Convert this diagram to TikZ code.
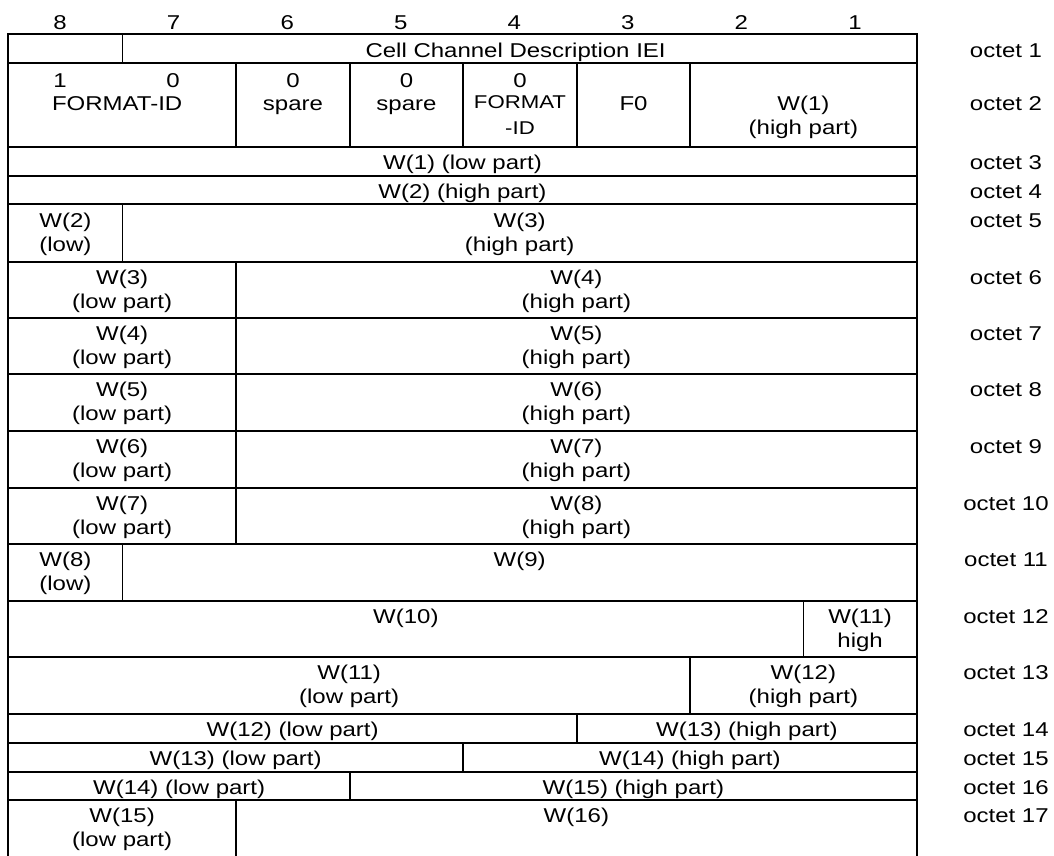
\documentclass[tikz,border=0pt]{standalone}
\usepackage{fontspec}
\setmainfont{Liberation Sans}[FakeStretch=1.2]
\def\XA{8.3}\def\XB{122.5}\def\XC{236}\def\XD{350}\def\XE{463}
\def\XF{577}\def\XG{690}\def\XH{803.5}\def\XI{916.7}
\def\YA{33.7}\def\YB{62.7}\def\YC{146.7}\def\YD{175.7}\def\YE{204.3}
\def\YF{262}\def\YG{317.7}\def\YH{374.3}\def\YI{431}\def\YJ{487.7}
\def\YK{544}\def\YL{601}\def\YM{657}\def\YN{714}\def\YO{742.7}
\def\YP{771.7}\def\YQ{800}\def\YZ{855}
\def\OX{1006}
\begin{document}
\begin{tikzpicture}[x=1pt,y=-1pt,
  grid/.style={line width=1.8pt, line cap=rect},
  txt/.style={anchor=base, inner sep=0pt, font=\fontsize{20}{24}\selectfont},
  txts/.style={anchor=base, inner sep=0pt, font=\fontsize{18.5}{22}\selectfont}]
\useasboundingbox (0,0) rectangle (1054,855);
\fill[white] (0,0) rectangle (1054,855);
% outer frame (open at the bottom, cut by the image edge)
\draw[grid] (\XA,\YZ) -- (\XA,\YA) -- (\XI,\YA) -- (\XI,\YZ);
% horizontal rules
\foreach \y in {\YB,\YC,\YD,\YE,\YF,\YG,\YH,\YI,\YJ,\YK,\YL,\YM,\YN,\YO,\YP,\YQ}
  \draw[grid] (\XA,\y) -- (\XI,\y);
% vertical separators
\draw[grid] (\XB,\YA) -- (\XB,\YB);
\foreach \x in {\XC,\XD,\XE,\XF,\XG} \draw[grid] (\x,\YB) -- (\x,\YC);
\draw[grid] (\XB,\YE) -- (\XB,\YF);
\draw[grid] (\XC,\YF) -- (\XC,\YK);
\draw[grid] (\XB,\YK) -- (\XB,\YL);
\draw[grid] (\XH,\YL) -- (\XH,\YM);
\draw[grid] (\XG,\YM) -- (\XG,\YN);
\draw[grid] (\XF,\YN) -- (\XF,\YO);
\draw[grid] (\XE,\YO) -- (\XE,\YP);
\draw[grid] (\XD,\YP) -- (\XD,\YQ);
\draw[grid] (\XC,\YQ) -- (\XC,\YZ);
% bit numbers
\foreach \b [count=\k from 0] in {8,7,6,5,4,3,2,1}
  \node[txt] (bit\b) at ({\XA+113.55*\k+56.8-5},29.5) {\b};
% octet 1
\node[txt] (iei) at ({(\XB+\XI)/2-4},57.5) {Cell Channel Description IEI};
% octet 2
\node[txt] (f1) at (60,87) {1};
\node[txt] (f0) at (173,87) {0};
\node[txt] (fid) at ({(\XA+\XC)/2-5},110.5) {FORMAT-ID};
\node[txt] (s6a) at ({(\XC+\XD)/2},87) {0};
\node[txt] (s6b) at ({(\XC+\XD)/2},110.5) {spare};
\node[txt] (s5a) at ({(\XD+\XE)/2},87) {0};
\node[txt] (s5b) at ({(\XD+\XE)/2},110.5) {spare};
\node[txt] (g4a) at ({(\XE+\XF)/2},87) {0};
\node[txts] (g4b) at ({(\XE+\XF)/2},108.5) {FORMAT};
\node[txts] (g4c) at ({(\XE+\XF)/2},134) {-ID};
\node[txt] (ff0) at ({(\XF+\XG)/2},110.5) {F0};
\node[txt] (w1a) at ({(\XG+\XI)/2},110.5) {W(1)};
\node[txt] (w1b) at ({(\XG+\XI)/2},134.5) {(high part)};
% octets 3, 4
\node[txt] (w1l) at ({(\XA+\XI)/2},169) {W(1) (low part)};
\node[txt] (w2h) at ({(\XA+\XI)/2},198) {W(2) (high part)};
% octet 5
\node[txt] (w2a) at ({(\XA+\XB)/2},227) {W(2)};
\node[txt] (w2b) at ({(\XA+\XB)/2},251) {(low)};
\node[txt] (w3a) at ({(\XB+\XI)/2},227) {W(3)};
\node[txt] (w3b) at ({(\XB+\XI)/2},251) {(high part)};
% octets 6 to 10
\foreach \n/\t in {3/\YF,4/\YG,5/\YH,6/\YI,7/\YJ}{
  \pgfmathtruncatemacro\m{\n+1}
  \node[txt] (lo\n a) at ({(\XA+\XC)/2},{\t+22.5}) {W(\n)};
  \node[txt] (lo\n b) at ({(\XA+\XC)/2},{\t+46.5}) {(low part)};
  \node[txt] (hi\m a) at ({(\XC+\XI)/2},{\t+22.5}) {W(\m)};
  \node[txt] (hi\m b) at ({(\XC+\XI)/2},{\t+46.5}) {(high part)};
}
% octet 11
\node[txt] (w8a) at ({(\XA+\XB)/2},566.5) {W(8)};
\node[txt] (w8b) at ({(\XA+\XB)/2},590.5) {(low)};
\node[txt] (w9) at ({(\XB+\XI)/2},566.5) {W(9)};
% octet 12
\node[txt] (w10) at ({(\XA+\XH)/2},623.5) {W(10)};
\node[txt] (w11a) at ({(\XH+\XI)/2},623.5) {W(11)};
\node[txt] (w11b) at ({(\XH+\XI)/2},647.5) {high};
% octet 13
\node[txt] (w11c) at ({(\XA+\XG)/2},679.5) {W(11)};
\node[txt] (w11d) at ({(\XA+\XG)/2},703.5) {(low part)};
\node[txt] (w12a) at ({(\XG+\XI)/2},679.5) {W(12)};
\node[txt] (w12b) at ({(\XG+\XI)/2},703.5) {(high part)};
% octets 14 to 16
\node[txt] (w12l) at ({(\XA+\XF)/2},736.5) {W(12) (low part)};
\node[txt] (w13h) at ({(\XF+\XI)/2},736.5) {W(13) (high part)};
\node[txt] (w13l) at ({(\XA+\XE)/2},765.2) {W(13) (low part)};
\node[txt] (w14h) at ({(\XE+\XI)/2},765.2) {W(14) (high part)};
\node[txt] (w14l) at ({(\XA+\XD)/2},794.2) {W(14) (low part)};
\node[txt] (w15h) at ({(\XD+\XI)/2},794.2) {W(15) (high part)};
% octet 17
\node[txt] (w15a) at ({(\XA+\XC)/2},822.5) {W(15)};
\node[txt] (w15b) at ({(\XA+\XC)/2},846.5) {(low part)};
\node[txt] (w16) at ({(\XC+\XI)/2},822.5) {W(16)};
% octet labels
\foreach \i/\yy in {1/57.5,2/110.5,3/169,4/198,5/227,6/284.5,7/340.2,8/396.8,9/453.5,
  10/510.2,11/566.5,12/623.5,13/679.5,14/736.5,15/765.2,16/794.2,17/822.5}
  \node[txt] (oct\i) at (\OX,\yy) {octet \i};
\end{tikzpicture}
\end{document}
